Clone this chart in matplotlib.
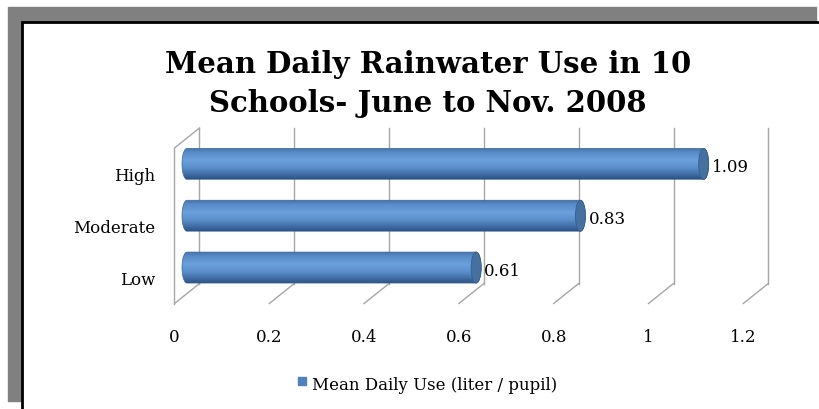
import numpy as np
import matplotlib.pyplot as plt
from matplotlib.patches import Rectangle, Ellipse, PathPatch
from matplotlib.path import Path
from matplotlib.colors import LinearSegmentedColormap
from matplotlib.transforms import offset_copy

# data
categories = ['Low', 'Moderate', 'High']
values = [0.61, 0.83, 1.09]
xticks = [0, 0.2, 0.4, 0.6, 0.8, 1.0, 1.2]
xtick_labels = ['0', '0.2', '0.4', '0.6', '0.8', '1', '1.2']
value_labels = ['0.61', '0.83', '1.09']
series_name = 'Mean Daily Use (liter / pupil)'
title = 'Mean Daily Rainwater Use in 10\nSchools- June to Nov. 2008'

W, H = 820, 410
SERIF = 'DejaVu Serif'
fig = plt.figure(figsize=(W / 100, H / 100), dpi=100)

# outer frame (gray shadow + black edged white box), pixel coords
bg = fig.add_axes([0, 0, 1, 1])
bg.set_xlim(0, W)
bg.set_ylim(H, 0)
bg.axis('off')
bg.add_patch(Rectangle((8, 8), 808, 394, color='#808080'))
bg.add_patch(Rectangle((22, 22.5), 820, 400, facecolor='white', edgecolor='black', lw=2))

# plot area (middle depth plane of the 3d box), with a small margin on the left
x0_px, unit_px, pad_px = 187, 474, 15
top_px, bot_px = 139, 294.5
ax = fig.add_axes([(x0_px - pad_px) / W, (H - bot_px) / H,
                   (1.2 * unit_px + pad_px) / W, (bot_px - top_px) / H])
ax.axis('off')

ny = len(categories)
ypx = (bot_px - top_px) / ny          # pixels per category
dx = 12.5 / unit_px                   # depth offset in data units
dy = 10 / ypx                         # depth offset in data units
ylo, yhi = -0.5, ny - 0.5

grid_kw = dict(color='#a6a6a6', lw=1, clip_on=False, zorder=1)
for t in xticks:
    ax.plot([t + dx, t + dx], [ylo + dy, yhi + dy], **grid_kw)
    ax.plot([t + dx, t - dx], [ylo + dy, ylo - dy], **grid_kw)
# side wall
ax.plot([-dx, -dx], [ylo - dy, yhi - dy], **grid_kw)
ax.plot([-dx, dx], [yhi - dy, yhi + dy], **grid_kw)

# cylinder bars
cmap = LinearSegmentedColormap.from_list('cyl', [
    (0.0, '#4674ab'), (0.15, '#5a8ecb'), (0.4, '#6aa0dc'),
    (0.62, '#5c91cd'), (0.85, '#416fa6'), (1.0, '#2d5484')])
grad = np.linspace(0, 1, 64).reshape(-1, 1)
h = 15.5 / ypx
rx = 5 / unit_px
t = np.linspace(0, np.pi, 40)
for i, v in enumerate(values):
    xs = np.concatenate([[0, v], v + rx * np.sin(t), [0], -rx * np.sin(t)])
    ys = np.concatenate([[i + h, i + h], i + h * np.cos(t), [i - h], i - h * np.cos(t)])
    clip = PathPatch(Path(np.column_stack([xs, ys])), facecolor='none',
                     edgecolor='#3a6597', lw=0.5, zorder=3, clip_on=False)
    ax.add_patch(clip)
    im = ax.imshow(grad, cmap=cmap, aspect='auto', extent=(-rx, v + rx, i - h, i + h),
                   zorder=2, interpolation='bilinear')
    im.set_clip_path(clip)
    ax.add_patch(Ellipse((v, i), 2 * rx, 2 * h, facecolor='#44719f',
                         edgecolor='#35608f', lw=0.6, zorder=4))
    ax.text(v, i, value_labels[i], family=SERIF, fontsize=12, va='center', ha='left',
            transform=offset_copy(ax.transData, fig=fig, x=8, y=-3, units='dots'))

ax.set_xlim(-pad_px / unit_px, 1.2)
ax.set_ylim(ylo, yhi)

# category labels on the front plane
for i, c in enumerate(categories):
    ax.text(0, i, c, family=SERIF, fontsize=12, va='center', ha='right',
            transform=offset_copy(ax.transData, fig=fig, x=-32, y=-12, units='dots'))
for tk, lab in zip(xticks, xtick_labels):
    ax.text(tk, ylo, lab, family=SERIF, fontsize=12, va='center', ha='center',
            transform=offset_copy(ax.transData, fig=fig, x=-12.5, y=-43.5, units='dots'))

fig.text(428 / W, 1 - 73 / H, title.split('\n')[0], family=SERIF, fontweight='bold',
         fontsize=21, ha='center', va='baseline')
fig.text(428 / W, 1 - 112 / H, title.split('\n')[1], family=SERIF, fontweight='bold',
         fontsize=21, ha='center', va='baseline')

# legend
bg.add_patch(Rectangle((298, 378), 8, 8, color='#4f81bd'))
bg.text(312, 386, series_name, family=SERIF, fontsize=12, va='center', ha='left')

fig.savefig('out.png', dpi=100)
